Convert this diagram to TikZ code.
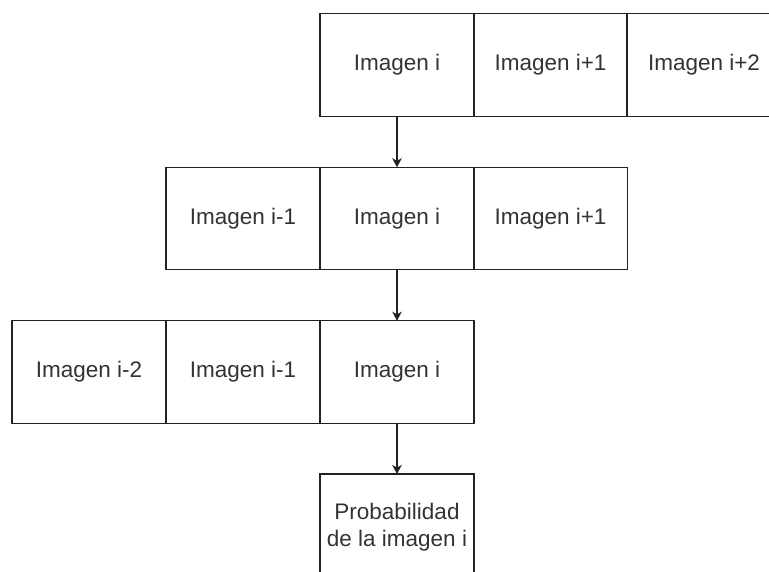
\documentclass[tikz,border=0pt]{standalone}
\usepackage{fontspec}
\setmainfont{Liberation Sans}
\usetikzlibrary{arrows.meta}
\definecolor{txt}{HTML}{333333}
\definecolor{ln}{HTML}{222222}
\begin{document}
\begin{tikzpicture}[x=1pt,y=-1pt,
  cell/.style={draw=ln, line width=1.1pt, minimum width=154pt, minimum height=102.5pt, outer sep=0pt, inner sep=0pt,
    text=txt, font=\fontsize{22.5}{27}\selectfont, align=center},
  arr/.style={draw=ln, line width=1.1pt, -{Stealth[length=9pt,width=9.5pt,inset=2.5pt]}}]
\useasboundingbox (0,0) rectangle (769,572);
\clip (0,0) rectangle (769,572);
% row 1
\node[cell] (a1) at (397,65) {Imagen i};
\node[cell] (a2) at (550.5,65) {Imagen i+1};
\node[cell] (a3) at (704,65) {Imagen i+2};
% row 2
\node[cell] (b1) at (243,218.5) {Imagen i-1};
\node[cell] (b2) at (397,218.5) {Imagen i};
\node[cell] (b3) at (550.5,218.5) {Imagen i+1};
% row 3
\node[cell] (c1) at (89,372) {Imagen i-2};
\node[cell] (c2) at (243,372) {Imagen i-1};
\node[cell] (c3) at (397,372) {Imagen i};
% result
\node[cell, minimum height=106pt] (d) at (397,527) {Probabilidad\\de la imagen i};
\draw[arr] (a1.south) -- (b2.north);
\draw[arr] (b2.south) -- (c3.north);
\draw[arr] (c3.south) -- (d.north);
\end{tikzpicture}
\end{document}
